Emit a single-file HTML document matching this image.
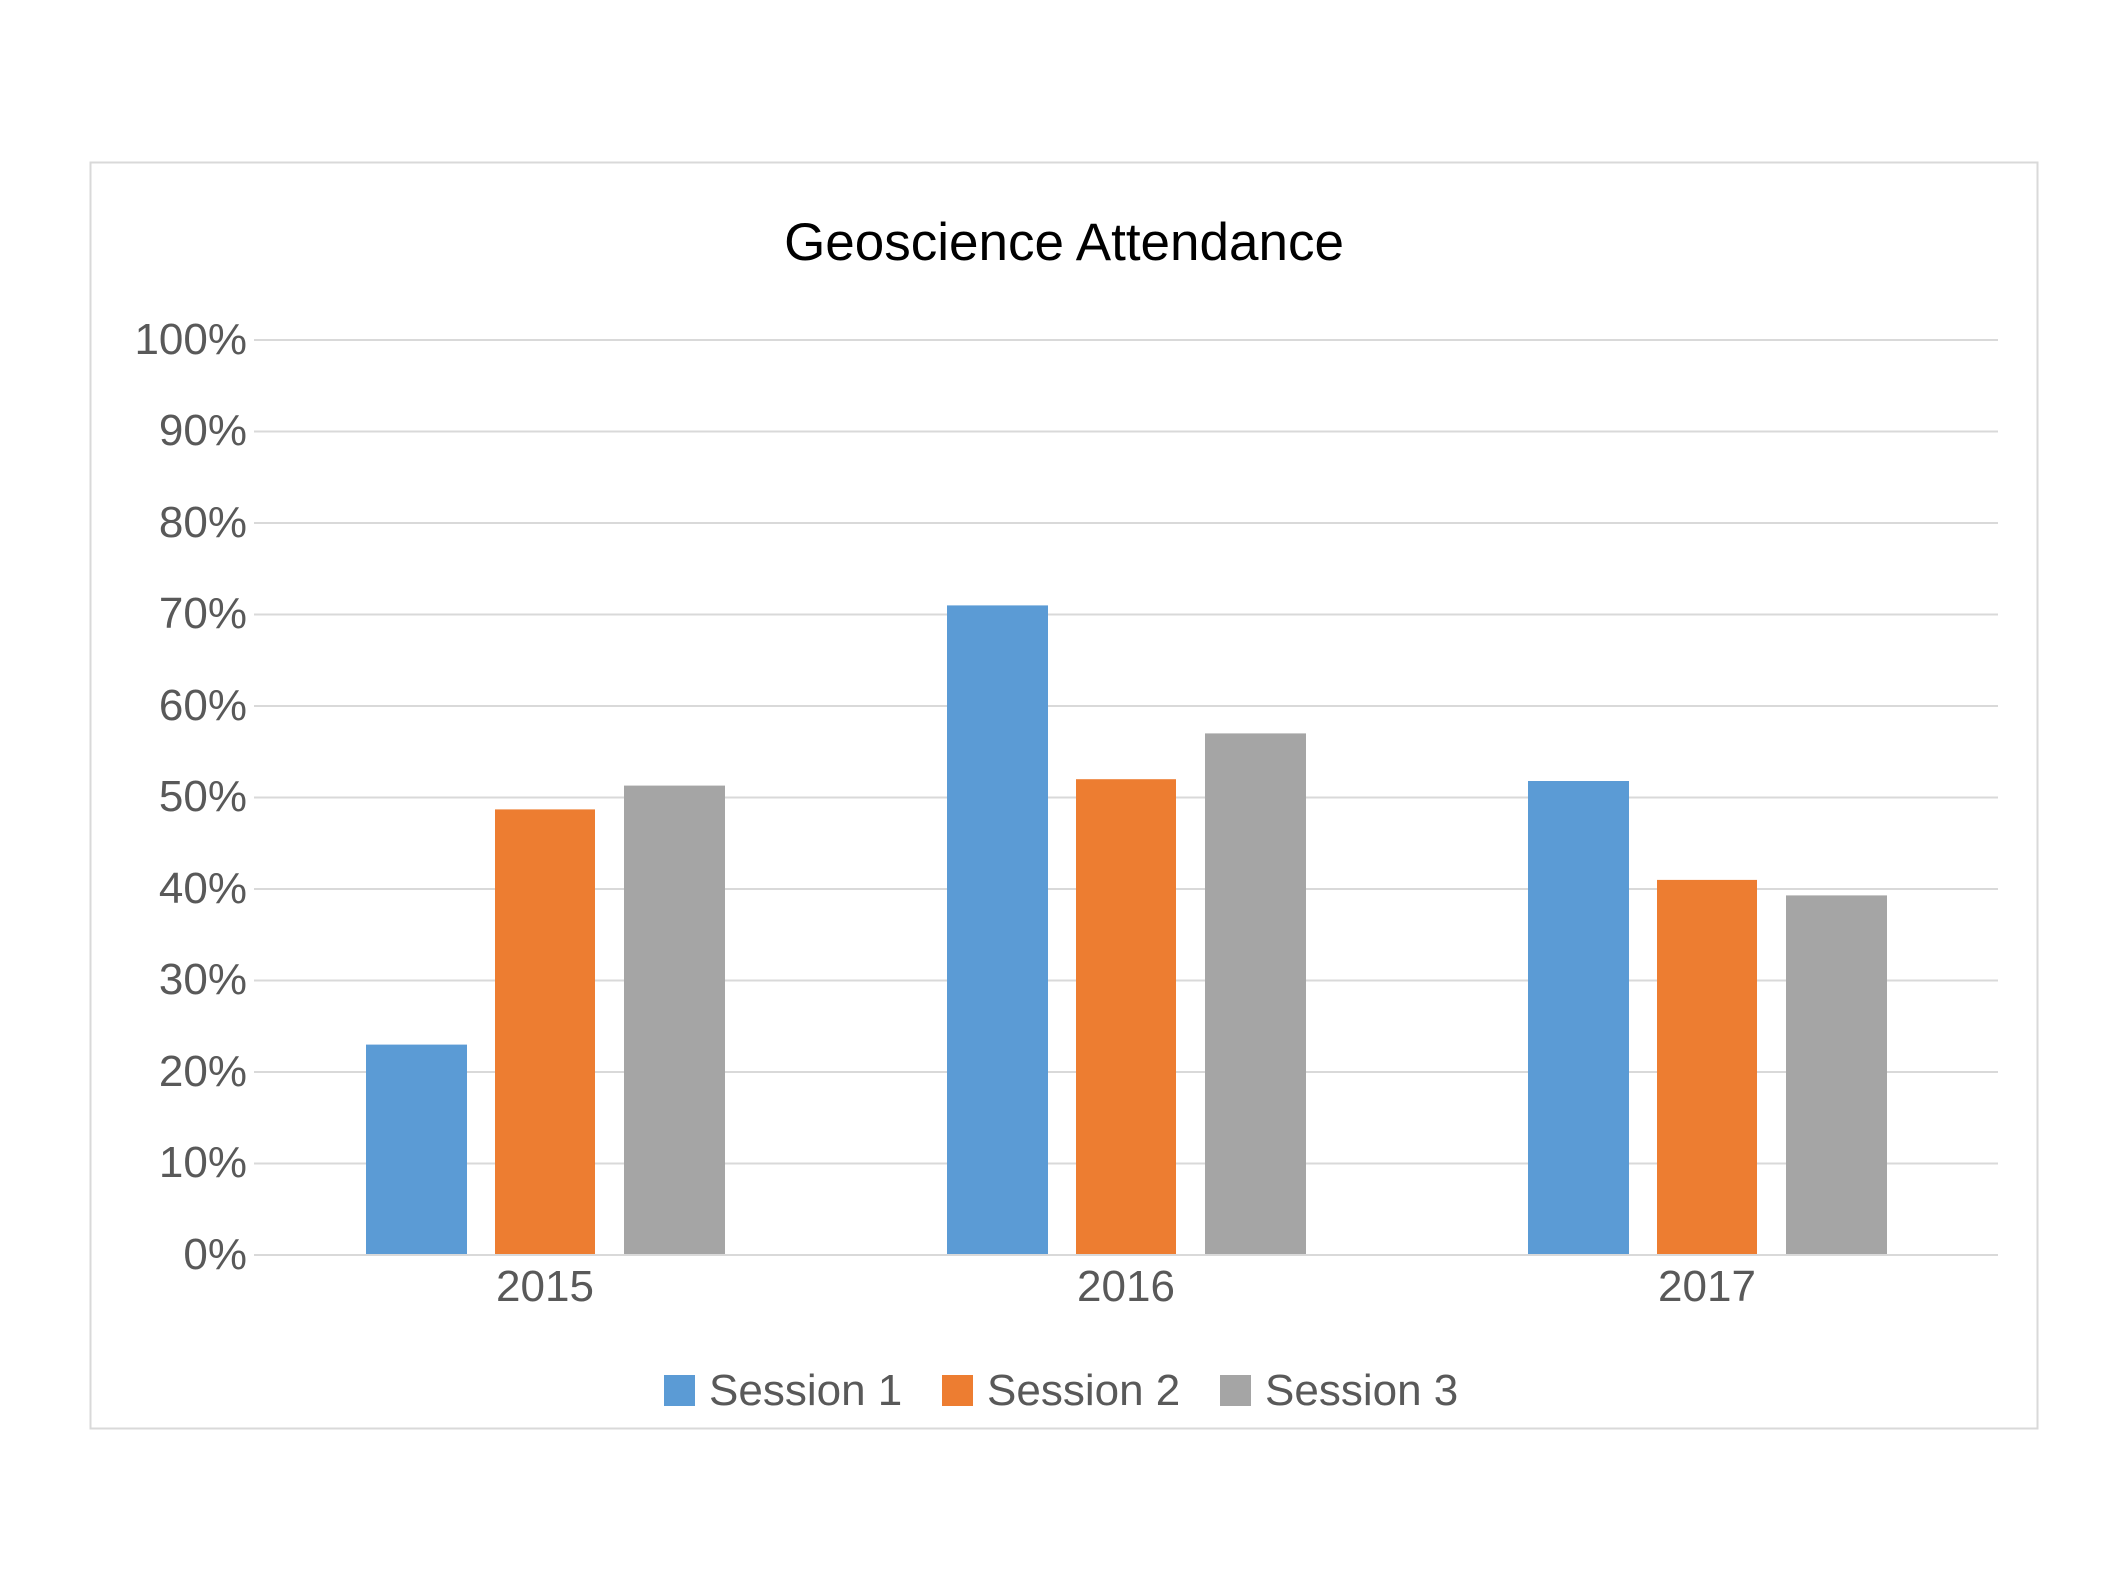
<!DOCTYPE html>
<html><head><style>body{margin:0;background:#fff}</style></head><body>
<svg width="2117" height="1587" xmlns="http://www.w3.org/2000/svg" font-family="Liberation Sans, sans-serif">
<rect width="2117" height="1587" fill="#fff"/>
<rect x="90.5" y="162.5" width="1947" height="1266" fill="#fff" stroke="#d9d9d9" stroke-width="2"/>
<text x="1064" y="260" font-size="53" text-anchor="middle" fill="#000">Geoscience Attendance</text>
<g stroke="#d9d9d9" stroke-width="2">
<line x1="254" x2="1998" y1="340" y2="340"/><line x1="254" x2="1998" y1="431.5" y2="431.5"/>
<line x1="254" x2="1998" y1="523" y2="523"/><line x1="254" x2="1998" y1="614.5" y2="614.5"/>
<line x1="254" x2="1998" y1="706" y2="706"/><line x1="254" x2="1998" y1="797.5" y2="797.5"/>
<line x1="254" x2="1998" y1="889" y2="889"/><line x1="254" x2="1998" y1="980.5" y2="980.5"/>
<line x1="254" x2="1998" y1="1072" y2="1072"/><line x1="254" x2="1998" y1="1163.5" y2="1163.5"/>
</g>
<g font-size="44" fill="#595959" text-anchor="end">
<text x="247" y="354">100%</text><text x="247" y="445">90%</text><text x="247" y="537">80%</text>
<text x="247" y="628">70%</text><text x="247" y="720">60%</text><text x="247" y="811">50%</text>
<text x="247" y="903">40%</text><text x="247" y="994">30%</text><text x="247" y="1086">20%</text>
<text x="247" y="1177">10%</text><text x="247" y="1269">0%</text>
</g>
<g>
<rect x="366" y="1044.6" width="101" height="210.4" fill="#5b9bd5"/>
<rect x="495" y="809.4" width="100" height="445.6" fill="#ed7d31"/>
<rect x="624" y="785.6" width="101" height="469.4" fill="#a5a5a5"/>
<rect x="947" y="605.4" width="101" height="649.6" fill="#5b9bd5"/>
<rect x="1076" y="779.2" width="100" height="475.8" fill="#ed7d31"/>
<rect x="1205" y="733.4" width="101" height="521.6" fill="#a5a5a5"/>
<rect x="1528" y="781" width="101" height="474" fill="#5b9bd5"/>
<rect x="1657" y="879.9" width="100" height="375.1" fill="#ed7d31"/>
<rect x="1786" y="895.4" width="101" height="359.6" fill="#a5a5a5"/>
</g>
<line x1="254" x2="1998" y1="1255" y2="1255" stroke="#d9d9d9" stroke-width="2"/>
<g font-size="44" fill="#595959" text-anchor="middle">
<text x="545" y="1301">2015</text><text x="1126" y="1301">2016</text><text x="1707" y="1301">2017</text>
</g>
<g font-size="44" fill="#595959">
<rect x="664" y="1375" width="31" height="31" fill="#5b9bd5"/><text x="709" y="1405">Session 1</text>
<rect x="942" y="1375" width="31" height="31" fill="#ed7d31"/><text x="987" y="1405">Session 2</text>
<rect x="1220" y="1375" width="31" height="31" fill="#a5a5a5"/><text x="1265" y="1405">Session 3</text>
</g>
</svg>
</body></html>
